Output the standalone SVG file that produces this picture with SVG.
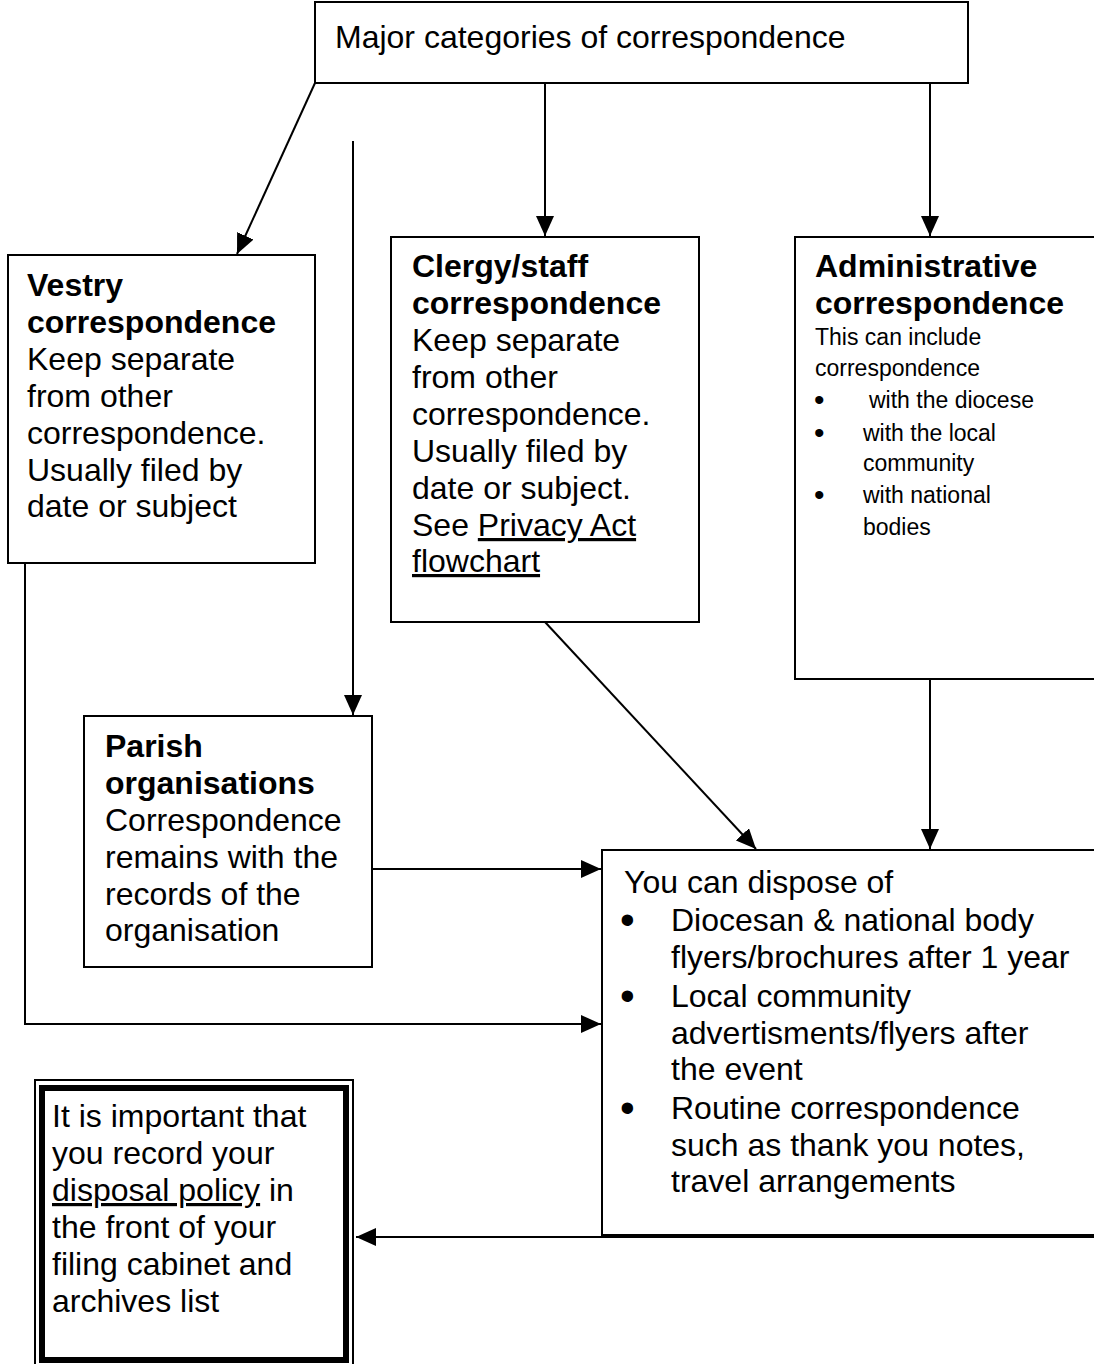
<svg xmlns="http://www.w3.org/2000/svg" width="1094" height="1364" viewBox="0 0 1094 1364">
<defs>
<marker id="arr" markerUnits="userSpaceOnUse" markerWidth="22" markerHeight="18" refX="20" refY="9" orient="auto">
<path d="M0,0 L20,9 L0,18 Z" fill="#000"/>
</marker>
<style>
.box{fill:#fff;stroke:#000;stroke-width:2}
.t{font-family:"Liberation Sans",Arial,sans-serif;font-size:32px;fill:#000}
.b{font-weight:bold}
.s{font-size:23px}
.bs{font-size:30px}
.bl{font-size:42px}
.c{fill:none;stroke:#000;stroke-width:2}
</style>
</defs>
<rect width="1094" height="1364" fill="#fff"/>
<g id="connectors">
<line class="c" x1="315" y1="83" x2="237" y2="254" marker-end="url(#arr)"/>
<line class="c" x1="545" y1="83" x2="545" y2="236" marker-end="url(#arr)"/>
<line class="c" x1="930" y1="83" x2="930" y2="236" marker-end="url(#arr)"/>
<line class="c" x1="353" y1="141" x2="353" y2="715" marker-end="url(#arr)"/>
<line class="c" x1="545" y1="622" x2="756" y2="849" marker-end="url(#arr)"/>
<line class="c" x1="930" y1="679" x2="930" y2="849" marker-end="url(#arr)"/>
<line class="c" x1="372" y1="869" x2="601" y2="869" marker-end="url(#arr)"/>
<polyline class="c" points="25,563 25,1024 601,1024" marker-end="url(#arr)"/>
<line class="c" x1="1094" y1="1237" x2="356" y2="1237" marker-end="url(#arr)"/>
</g>
<g id="top">
<rect class="box" x="315" y="2" width="653" height="81"/>
<text class="t" x="335" y="48">Major categories of correspondence</text>
</g>
<g id="vestry">
<rect class="box" x="8" y="255" width="307" height="308"/>
<text class="t" x="27" y="296"><tspan class="b">Vestry</tspan><tspan class="b" x="27" y="333">correspondence</tspan><tspan x="27" y="370">Keep separate</tspan><tspan x="27" y="407">from other</tspan><tspan x="27" y="444">correspondence.</tspan><tspan x="27" y="481">Usually filed by</tspan><tspan x="27" y="517">date or subject</tspan></text>
</g>
<g id="clergy">
<rect class="box" x="391" y="237" width="308" height="385"/>
<text class="t" x="412" y="277"><tspan class="b">Clergy/staff</tspan><tspan class="b" x="412" y="314">correspondence</tspan><tspan x="412" y="351">Keep separate</tspan><tspan x="412" y="388">from other</tspan><tspan x="412" y="425">correspondence.</tspan><tspan x="412" y="462">Usually filed by</tspan><tspan x="412" y="499">date or subject.</tspan><tspan x="412" y="536">See <tspan text-decoration="underline">Privacy Act</tspan></tspan><tspan x="412" y="572" text-decoration="underline">flowchart</tspan></text>
</g>
<g id="admin">
<rect class="box" x="795" y="237" width="310" height="442"/>
<text class="t b" x="815" y="277">Administrative<tspan x="815" y="314">correspondence</tspan></text>
<text class="t s" x="815" y="345">This can include<tspan x="815" y="376">correspondence</tspan></text>
<text class="t bs" x="814" y="410">•<tspan x="814" y="443">•</tspan><tspan x="814" y="505">•</tspan></text>
<text class="t s" x="869" y="408">with the diocese</text>
<text class="t s" x="863" y="441">with the local<tspan x="863" y="471">community</tspan><tspan x="863" y="503">with national</tspan><tspan x="863" y="535">bodies</tspan></text>
</g>
<g id="parish">
<rect class="box" x="84" y="716" width="288" height="251"/>
<text class="t" x="105" y="757"><tspan class="b">Parish</tspan><tspan class="b" x="105" y="794">organisations</tspan><tspan x="105" y="831">Correspondence</tspan><tspan x="105" y="868">remains with the</tspan><tspan x="105" y="905">records of the</tspan><tspan x="105" y="941">organisation</tspan></text>
</g>
<g id="dispose">
<rect class="box" x="602" y="850" width="510" height="385"/>
<text class="t" x="624" y="893">You can dispose of</text>
<text class="t bl" x="620" y="934">•<tspan x="620" y="1010">•</tspan><tspan x="620" y="1122">•</tspan></text>
<text class="t" x="671" y="931">Diocesan &amp; national body<tspan x="671" y="968">flyers/brochures after 1 year</tspan><tspan x="671" y="1007">Local community</tspan><tspan x="671" y="1044">advertisments/flyers after</tspan><tspan x="671" y="1080">the event</tspan><tspan x="671" y="1119">Routine correspondence</tspan><tspan x="671" y="1156">such as thank you notes,</tspan><tspan x="671" y="1192">travel arrangements</tspan></text>
</g>
<g id="policy">
<rect x="35" y="1080" width="318" height="292" fill="#fff" stroke="#000" stroke-width="2"/>
<rect x="42" y="1088" width="304" height="272" fill="none" stroke="#000" stroke-width="6"/>
<text class="t" x="52" y="1127">It is important that<tspan x="52" y="1164">you record your</tspan><tspan x="52" y="1201"><tspan text-decoration="underline">disposal policy</tspan> in</tspan><tspan x="52" y="1238">the front of your</tspan><tspan x="52" y="1275">filing cabinet and</tspan><tspan x="52" y="1312">archives list</tspan></text>
</g>
</svg>
